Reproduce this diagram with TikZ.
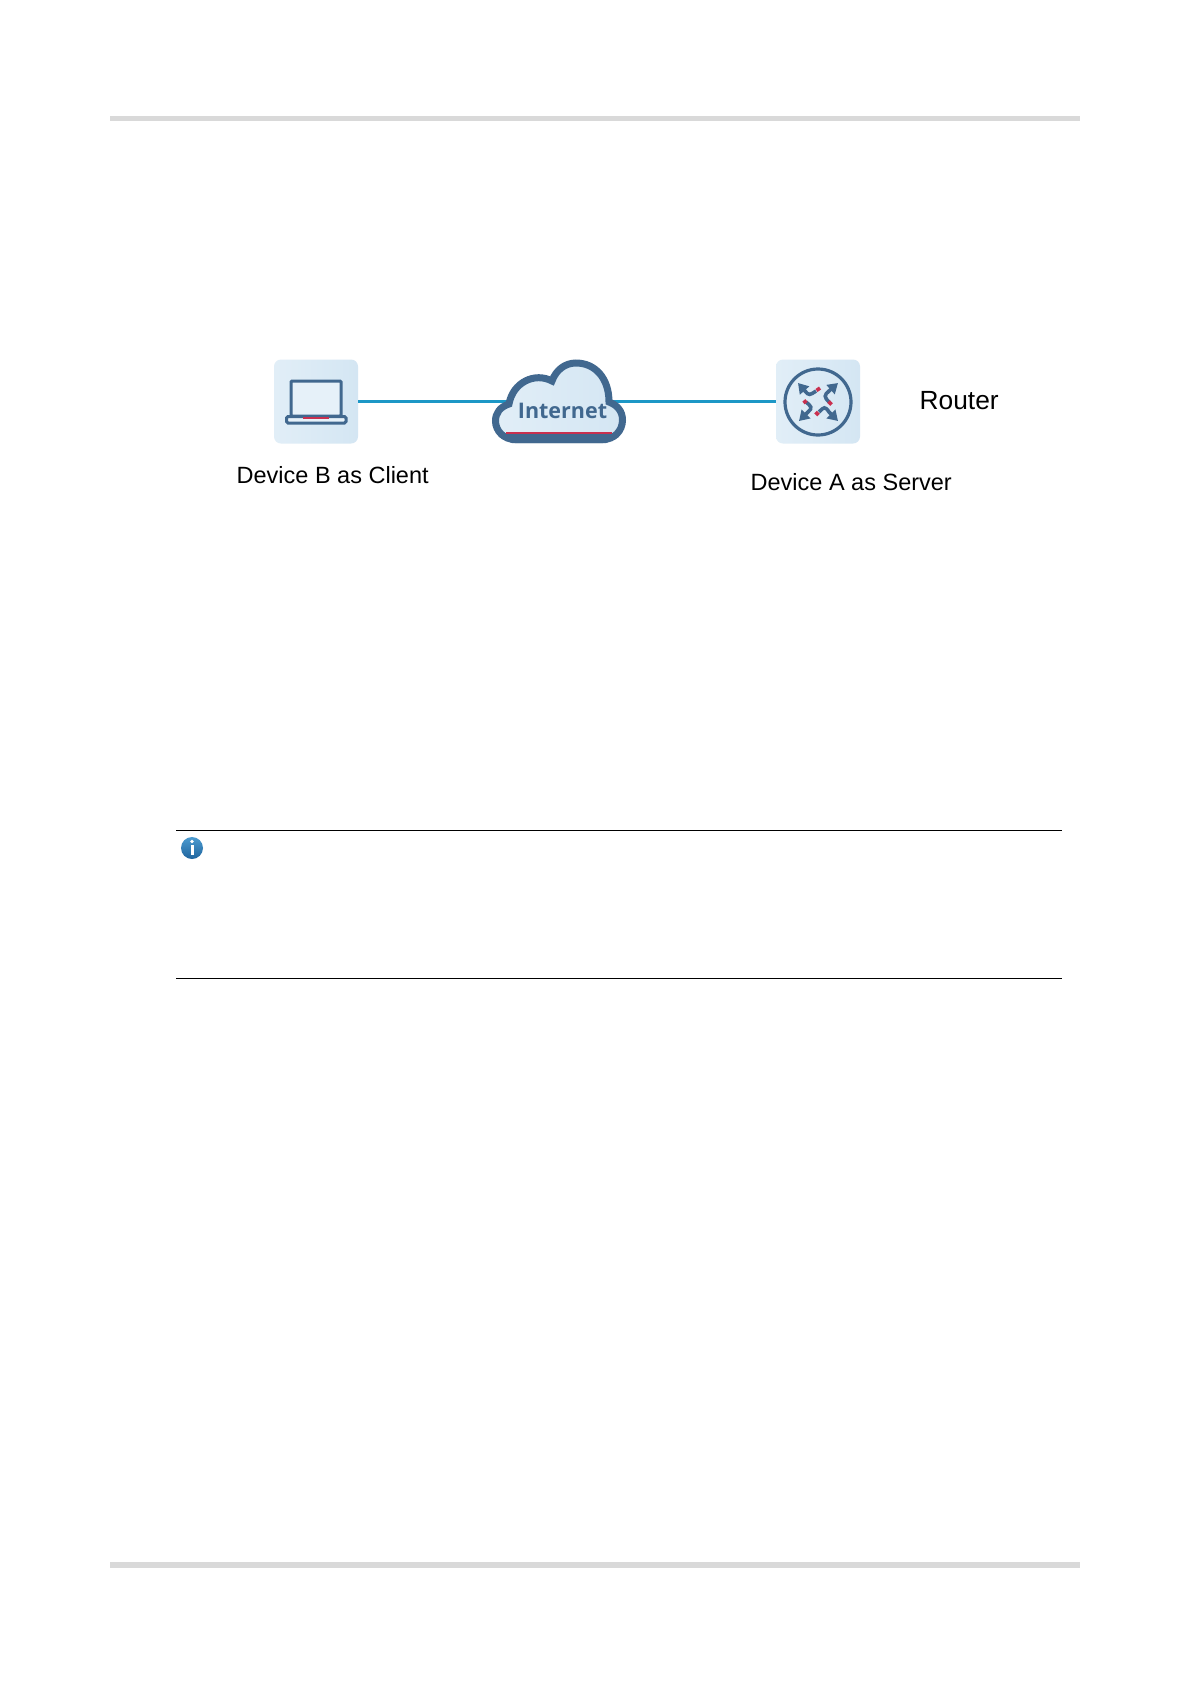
\documentclass[tikz,border=0pt]{standalone}
\usepackage{fontspec}
\setmainfont{Liberation Sans}
\newfontfamily\cloudfont{Open Sans}
\usetikzlibrary{arrows.meta,shadings}
\definecolor{iconblue}{HTML}{41688F}
\definecolor{linkblue}{HTML}{1C97C6}
\definecolor{tile}{HTML}{DCEBF6}
\definecolor{tiledark}{HTML}{D4E6F3}
\definecolor{accent}{HTML}{C9304F}
\definecolor{rulegray}{HTML}{D9D9D9}
\definecolor{infotop}{HTML}{4C9BD0}
\definecolor{infobot}{HTML}{1F649E}
\tikzset{
  x=1pt,y=-1pt,
  tilebox/.style={draw=none,rounded corners=7pt,minimum width=84pt,minimum height=84pt,inner sep=0pt,left color=tile!85!white,right color=tiledark},
  link/.style={draw=linkblue,line width=3pt},
  glyph/.style={draw=iconblue,line width=3pt},
  routearrow/.style={draw=iconblue,line width=3.6pt,-{Triangle[length=10pt,width=12pt]}},
  redtip/.style={draw=accent,line width=3.6pt},
  label/.style={inner sep=0pt,anchor=base west,font=\fontsize{23.5pt}{26pt}\selectfont},
  headrule/.style={draw=rulegray,line width=5pt},
  footrule/.style={draw=rulegray,line width=6pt},
  noterule/.style={draw=black,line width=0.9pt}
}
\begin{document}
\begin{tikzpicture}
\useasboundingbox (0,0) rectangle (1191,1684);
\fill[white] (0,0) rectangle (1191,1684);
% page rules
\coordinate (hl) at (110,118.5); \coordinate (hr) at (1080,118.5);
\coordinate (fl) at (110,1565); \coordinate (fr) at (1080,1565);
\draw[headrule] (hl) -- (hr);
\draw[footrule] (fl) -- (fr);
\coordinate (n1l) at (176,830); \coordinate (n1r) at (1062,830);
\coordinate (n2l) at (176,978.5); \coordinate (n2r) at (1062,978.5);
\draw[noterule] (n1l) -- (n1r);
\draw[noterule] (n2l) -- (n2r);
% nodes
\node[tilebox] (client) at (316,401.5) {};
\node[tilebox] (server) at (818,401.5) {};
\node[inner sep=0pt,minimum width=134pt,minimum height=84pt] (cloud) at (559,401.5) {};
\draw[link] (client.east) -- (cloud.center);
\draw[link] (cloud.center) -- (server.west);
% cloud
\path[fill=tile,left color=tile!85!white,right color=tiledark,draw=iconblue,line width=7pt]
  (515,439.5) -- (603,439.5)
  .. controls (614,439.5) and (622.5,431) .. (622.5,420)
  .. controls (622.5,411) and (617,405) .. (609,402)
  .. controls (609,378) and (595,363) .. (576,363)
  .. controls (565,363) and (556,370) .. (552,381)
  .. controls (535,372) and (513,382) .. (509,404)
  .. controls (500,407) and (495.5,413) .. (495.5,421)
  .. controls (495.5,431) and (504,439.5) .. (515,439.5) -- cycle;
\fill[iconblue] (503,434) -- (615,434) -- (619,437) -- (606,443) -- (512,443) -- (499,437) -- cycle;
\draw[accent,line width=2.4pt] (506,433) -- (612,433);
\node[text=iconblue,inner sep=0pt,anchor=base,font=\cloudfont\bfseries\fontsize{21.5pt}{26pt}\selectfont] (inet) at (562.5,418) {Internet};
% laptop
\draw[glyph,rounded corners=1pt,fill=white!30!tile] (291,381) rectangle (341,416);
\draw[glyph,rounded corners=1.5pt,fill=white!30!tile] (286.5,416.5) rectangle (346,423);
\draw[accent,line width=2pt] (303,417.5) -- (329,417.5);
% router
\draw[glyph,line width=3.2pt] (818,402) circle (33);
\draw[routearrow] (816,391) .. controls (810,395) and (809,396) .. (805,391) -- (798,383);
\draw[routearrow] (829,402) .. controls (824,397) and (824,395) .. (829,391) -- (838,383);
\draw[routearrow] (806,402) .. controls (811,406) and (813,408) .. (808,412) -- (799,421);
\draw[routearrow] (819,412) .. controls (824,407) and (825,406) .. (829,412) -- (838,421);
\draw[redtip] (816.5,390.5) -- (820,388);
\draw[redtip] (828.5,401.5) -- (831.5,404.5);
\draw[redtip] (803.5,403) -- (806.5,400.5);
\draw[redtip] (815.5,412) -- (818.5,415);
% labels
\node[label] (lbclient) at (236.5,483) {Device B as Client};
\node[label] (lbserver) at (750.5,490) {Device A as Server};
\node[label,font=\fontsize{26.3pt}{28pt}\selectfont] (lbrouter) at (919.5,409) {Router};
% info icon
\shade[top color=infotop,bottom color=infobot] (192,848) circle (11);
\fill[white] (192,841.5) circle (1.8);
\fill[white] (190.5,845) rectangle (193.5,855);
\end{tikzpicture}
\end{document}
